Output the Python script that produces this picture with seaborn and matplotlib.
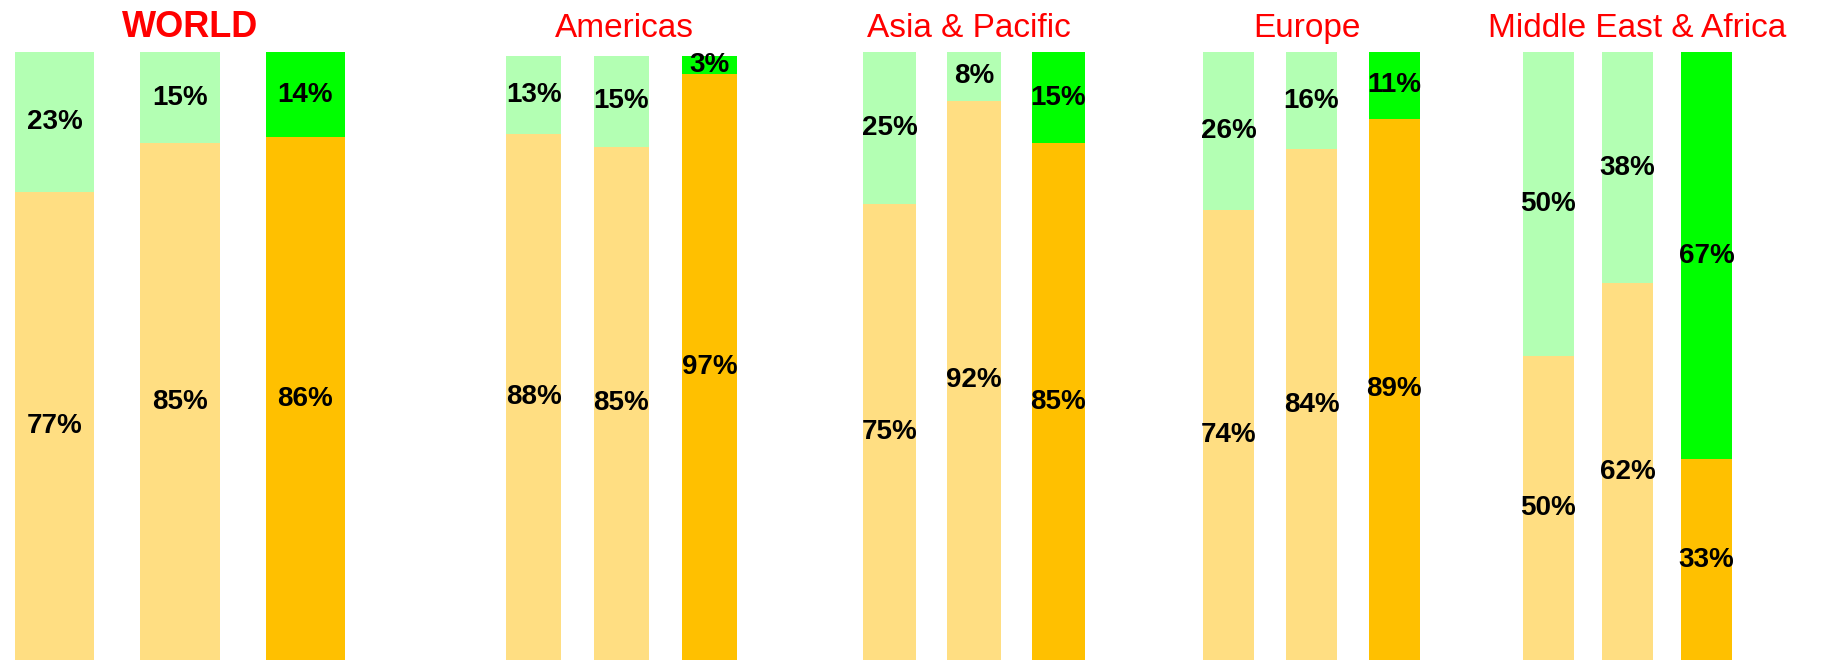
import matplotlib
matplotlib.use("Agg")
import matplotlib.pyplot as plt
import seaborn as sns
import pandas as pd

sns.set_theme(style="white")
plt.rcParams["font.family"] = ["Liberation Sans", "DejaVu Sans"]

# Three bars per region: lower (yellow/orange) share and upper (green) share, in %
regions = ["WORLD", "Americas", "Asia & Pacific", "Europe", "Middle East & Africa"]
bar_ids = ["a", "b", "c"]
world_low, world_high = [77, 85, 86], [23, 15, 14]
americas_low, americas_high = [88, 85, 97], [13, 15, 3]
asia_low, asia_high = [75, 92, 85], [25, 8, 15]
europe_low, europe_high = [74, 84, 89], [26, 16, 11]
mea_low, mea_high = [50, 62, 33], [50, 38, 67]

lows = [world_low, americas_low, asia_low, europe_low, mea_low]
highs = [world_high, americas_high, asia_high, europe_high, mea_high]

low_colors = ["#FFDE82", "#FFDE82", "#FFC000"]
high_colors = ["#B3FFB3", "#B3FFB3", "#00FF00"]

W, H = 1823, 660
fig = plt.figure(figsize=(W / 100, H / 100), dpi=100)

# panel geometry in pixels: (left, right, top), bar width as fraction of spacing
panels = [
    (15, 345, 52, 0.63),
    (506, 737, 56, 0.63),
    (863, 1085, 52, 0.63),
    (1203, 1420, 52, 0.62),
    (1523, 1732, 52, 0.645),
]
title_x = [190, 624, 969, 1307, 1637]

for i, (name, lo, hi, (l, r, t, w)) in enumerate(zip(regions, lows, highs, panels)):
    ax = fig.add_axes([l / W, 0, (r - l) / W, (H - t) / H])
    totals = [a + b for a, b in zip(lo, hi)]
    # each bar is drawn as a 100% stack of its two shares
    df = pd.DataFrame({
        "bar": bar_ids,
        "low": [100 * a / s for a, s in zip(lo, totals)],
        "full": [100.0] * 3,
    })
    sns.barplot(data=df, x="bar", y="full", hue="bar", palette=high_colors,
                width=w, legend=False, ax=ax, linewidth=0, saturation=1)
    sns.barplot(data=df, x="bar", y="low", hue="bar", palette=low_colors,
                width=w, legend=False, ax=ax, linewidth=0, saturation=1)
    ax.set_xlim(-w / 2, 2 + w / 2)
    ax.set_ylim(0, 100)
    ax.axis("off")

    for k in range(3):
        y_lo = df["low"][k]
        ax.text(k, y_lo / 2, f"{lo[k]}%", ha="center", va="center",
                fontsize=20, fontweight="bold", color="black")
        ax.text(k, (y_lo + 100) / 2, f"{hi[k]}%", ha="center", va="center",
                fontsize=20, fontweight="bold", color="black")

    if i == 0:
        fig.text(title_x[i] / W, 1 - 37 / H, name, ha="center", va="baseline",
                 fontsize=26, fontweight="bold", color="#FF0000")
    else:
        fig.text(title_x[i] / W, 1 - 37 / H, name, ha="center", va="baseline",
                 fontsize=24, color="#FF0000")

fig.savefig("out.png", dpi=100, facecolor="white")
